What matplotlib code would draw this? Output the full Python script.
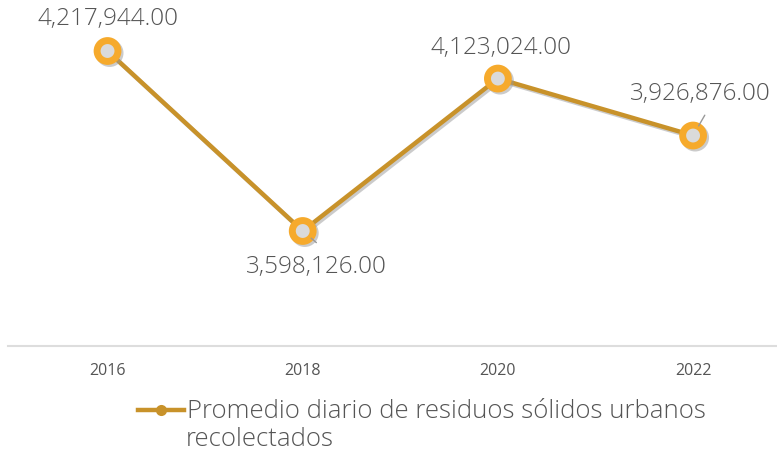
import matplotlib
matplotlib.use("Agg")
import matplotlib.pyplot as plt
import matplotlib.patheffects as pe

years = ["2016", "2018", "2020", "2022"]
values = [4217944.00, 3598126.00, 4123024.00, 3926876.00]
labels = ["4,217,944.00", "3,598,126.00", "4,123,024.00", "3,926,876.00"]
series_name = "Promedio diario de residuos sólidos urbanos"
series_name_2 = "recolectados"

line_color = "#C8922A"
marker_color = "#F6AA2C"
text_color = "#555555"

plt.rcParams['font.family'] = ['Open Sans', 'DejaVu Sans']

fig = plt.figure(figsize=(7.77, 4.53), dpi=100)
ax = fig.add_axes([8/777, (453-346)/453, 1 - 8/777, 346/453])
x = list(range(len(years)))

shadow = [pe.SimpleLineShadow(offset=(1.5, -1.5), shadow_color="#999999", alpha=0.5), pe.Normal()]
ax.plot(x, values, color=line_color, lw=3.2, zorder=2,
        marker="o", markersize=15, markerfacecolor="#DADADA",
        markeredgecolor=marker_color, markeredgewidth=5,
        label=series_name, path_effects=shadow)

ax.set_xlim(-0.51, 3.43)
ax.set_ylim(3202104, 4393564)

offsets = [(0, 23), (10, -26), (2, 22), (5, 30)]
for xi, v, lab, off in zip(x, values, labels, offsets):
    ax.annotate(lab, (xi, v), xytext=off, textcoords="offset points",
                ha="center", va="center", fontsize=17.5, color=text_color,
                fontweight="light")
ax.annotate("", (3, values[3]), xytext=(3.06, values[3] + 70000),
            arrowprops=dict(arrowstyle="-", color="#999999", lw=1, shrinkA=0, shrinkB=8))
ax.annotate("", (1, values[1]), xytext=(1.07, values[1] - 40000),
            arrowprops=dict(arrowstyle="-", color="#999999", lw=1, shrinkA=0, shrinkB=8))

for s in ["top", "right", "left"]:
    ax.spines[s].set_visible(False)
ax.spines["bottom"].set_color("#DDDDDD")
ax.spines["bottom"].set_linewidth(1.5)
ax.set_yticks([])
ax.set_xticks(x)
ax.set_xticklabels(years, fontsize=11.5, color=text_color)
ax.tick_params(axis="x", length=0, pad=12)

leg = fig.legend(loc="center left", bbox_to_anchor=(138/777, 1 - 412/453), frameon=False,
                 fontsize=18.5, labelcolor=text_color, handlelength=1.8, handletextpad=0.1,
                 borderpad=0, borderaxespad=0)
for h in leg.legend_handles:
    h.set_path_effects([])
    h.set_markerfacecolor(line_color)
    h.set_markeredgecolor(line_color)
    h.set_markersize(8)
    h.set_markeredgewidth(0)
for t in leg.get_texts():
    t.set_fontweight("light")

fig.text(186/777, 1 - 440/453, series_name_2, fontsize=18.5, color=text_color,
         ha="left", va="center", fontweight="light")

fig.savefig("out.png", dpi=100)
